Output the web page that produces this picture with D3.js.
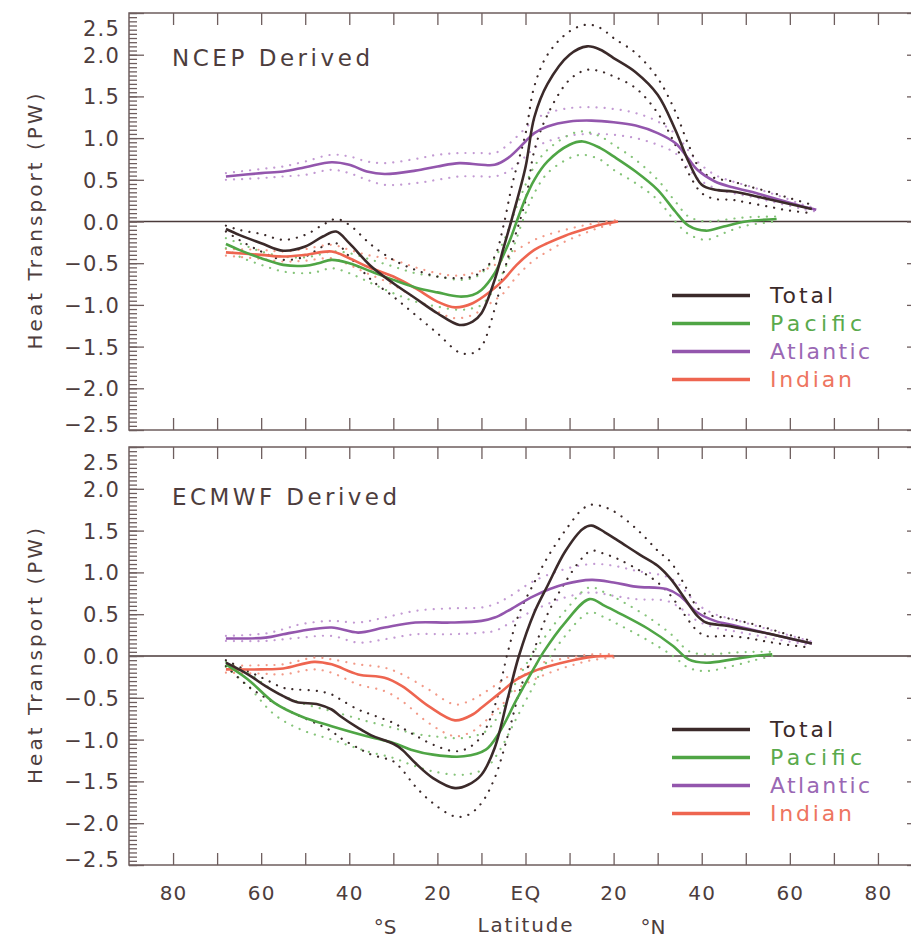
<!DOCTYPE html>
<html>
<head>
<meta charset="utf-8">
<script src="https://cdn.jsdelivr.net/npm/d3@7"></script>
<style>
  html, body { margin: 0; padding: 0; background: #fff; }
  svg { display: block; }
  text { font-family: "DejaVu Sans", "Liberation Sans", sans-serif; fill: #4d3d3d; }
</style>
</head>
<body>
<svg id="chart" width="911" height="940"></svg>
<script>
// ---------------- DATA (latitude in degrees, negative = south; PW) ----------------
const seriesNames = ["Total", "Pacific", "Atlantic", "Indian"];
const xTickValues = [-80, -70, -60, -50, -40, -30, -20, -10, 0, 10, 20, 30, 40, 50, 60, 70, 80];
const xLabelValues = [-80, -60, -40, -20, 0, 20, 40, 60, 80];
const yMajorTicks = [-2.5, -2.0, -1.5, -1.0, -0.5, 0.0, 0.5, 1.0, 1.5, 2.0, 2.5];
const panelTitles = ["NCEP Derived", "ECMWF Derived"];

// NCEP
const ncepTotalLat = [-68,-65,-60,-55,-50,-46,-43,-40,-35,-30,-25,-20,-15,-12,-10,-7,-5,-3,0,2,5,10,14,17,20,25,30,34,37,40,43,47,50,55,60,65];
const ncepTotal    = [-0.09,-0.16,-0.26,-0.35,-0.30,-0.18,-0.12,-0.26,-0.54,-0.74,-0.92,-1.10,-1.24,-1.20,-1.10,-0.70,-0.32,0.05,0.65,1.25,1.65,2.00,2.10,2.06,1.96,1.79,1.52,1.10,0.72,0.44,0.38,0.36,0.33,0.27,0.21,0.15];
const ncepTotalHi  = [-0.05,-0.10,-0.15,-0.22,-0.16,-0.04,0.03,-0.04,-0.28,-0.46,-0.58,-0.66,-0.68,-0.66,-0.60,-0.42,-0.05,0.45,1.05,1.62,2.00,2.28,2.36,2.32,2.20,2.02,1.72,1.32,0.92,0.60,0.52,0.48,0.43,0.36,0.28,0.20];
const ncepTotalLo  = [-0.12,-0.22,-0.36,-0.46,-0.42,-0.30,-0.26,-0.42,-0.70,-0.90,-1.12,-1.34,-1.57,-1.58,-1.50,-1.05,-0.62,-0.28,0.25,0.85,1.28,1.70,1.82,1.80,1.74,1.60,1.30,0.92,0.58,0.34,0.27,0.26,0.23,0.18,0.13,0.10];

const ncepPacificLat = [-68,-65,-60,-55,-50,-47,-44,-40,-35,-30,-25,-20,-15,-12,-10,-7,-5,-3.5,-2,0,2,5,10,13,17,20,25,30,34,37,41,45,50,57];
const ncepPacific    = [-0.27,-0.34,-0.44,-0.52,-0.53,-0.50,-0.46,-0.50,-0.60,-0.70,-0.79,-0.85,-0.90,-0.88,-0.82,-0.62,-0.40,-0.22,0.00,0.28,0.50,0.72,0.92,0.96,0.88,0.78,0.60,0.38,0.12,-0.05,-0.11,-0.06,0.00,0.03];
const ncepPacificHi  = [-0.20,-0.26,-0.36,-0.42,-0.43,-0.40,-0.36,-0.38,-0.46,-0.54,-0.62,-0.66,-0.70,-0.68,-0.62,-0.44,-0.24,-0.04,0.18,0.44,0.66,0.86,1.04,1.08,1.02,0.92,0.74,0.50,0.24,0.06,0.00,0.02,0.05,0.06];
const ncepPacificLo  = [-0.32,-0.42,-0.52,-0.60,-0.62,-0.60,-0.56,-0.62,-0.74,-0.86,-0.96,-1.02,-1.06,-1.04,-1.00,-0.80,-0.60,-0.42,-0.20,0.10,0.34,0.58,0.76,0.80,0.74,0.62,0.46,0.26,0.00,-0.15,-0.22,-0.14,-0.05,0.00];

const ncepAtlanticLat = [-68,-60,-55,-50,-44,-40,-36,-32,-25,-20,-15,-10,-7,-4,0,2,5,10,15,20,25,30,34,37,39,43,47,51,55,59,63,66];
const ncepAtlantic    = [0.54,0.58,0.60,0.65,0.71,0.68,0.60,0.57,0.61,0.66,0.70,0.68,0.68,0.76,0.96,1.06,1.14,1.20,1.21,1.19,1.15,1.06,0.94,0.75,0.62,0.48,0.41,0.36,0.30,0.24,0.18,0.14];
const ncepAtlanticHi  = [0.58,0.63,0.66,0.72,0.80,0.78,0.72,0.70,0.75,0.80,0.82,0.82,0.82,0.92,1.12,1.22,1.30,1.36,1.37,1.35,1.30,1.20,1.05,0.85,0.72,0.56,0.48,0.42,0.35,0.28,0.20,0.16];
const ncepAtlanticLo  = [0.50,0.52,0.54,0.56,0.62,0.58,0.50,0.44,0.46,0.50,0.54,0.54,0.54,0.60,0.78,0.88,0.96,1.03,1.05,1.04,1.00,0.92,0.82,0.64,0.52,0.40,0.34,0.30,0.25,0.20,0.15,0.12];

const ncepIndianLat = [-68,-60,-55,-50,-44,-40,-36,-30,-25,-20,-16,-12,-8,-5,-2,2,5,9,13,17,21];
const ncepIndian    = [-0.37,-0.40,-0.42,-0.40,-0.36,-0.44,-0.54,-0.66,-0.80,-0.96,-1.03,-0.98,-0.84,-0.70,-0.52,-0.34,-0.26,-0.17,-0.10,-0.04,0.00];
const ncepIndianHi  = [-0.33,-0.34,-0.36,-0.33,-0.28,-0.34,-0.40,-0.46,-0.55,-0.62,-0.65,-0.62,-0.55,-0.45,-0.34,-0.22,-0.16,-0.10,-0.05,-0.01,0.02];
const ncepIndianLo  = [-0.41,-0.45,-0.48,-0.47,-0.44,-0.52,-0.62,-0.76,-0.92,-1.08,-1.16,-1.12,-0.98,-0.86,-0.66,-0.46,-0.36,-0.24,-0.15,-0.07,-0.02];

// ECMWF
const ecmwfTotalLat = [-68,-63,-59,-55,-52,-47,-44,-42,-38,-35,-30,-28,-25,-21,-16,-13,-10,-7,-4,-1.5,2,5,9,13,15,18,21,26,30,33,36,39,41,46,51,55,60,65];
const ecmwfTotal    = [-0.08,-0.22,-0.36,-0.48,-0.55,-0.58,-0.64,-0.72,-0.86,-0.95,-1.05,-1.12,-1.28,-1.46,-1.58,-1.54,-1.42,-1.10,-0.50,0.00,0.52,0.84,1.25,1.52,1.56,1.48,1.38,1.21,1.08,0.92,0.70,0.48,0.40,0.36,0.31,0.27,0.21,0.15];
const ecmwfTotalHi  = [-0.05,-0.18,-0.28,-0.38,-0.40,-0.42,-0.46,-0.52,-0.64,-0.70,-0.80,-0.86,-0.95,-1.06,-1.14,-1.10,-0.96,-0.60,0.05,0.50,0.88,1.18,1.50,1.76,1.81,1.78,1.70,1.48,1.26,1.12,0.86,0.58,0.50,0.45,0.39,0.33,0.25,0.18];
const ecmwfTotalLo  = [-0.12,-0.36,-0.50,-0.62,-0.70,-0.82,-0.90,-0.98,-1.10,-1.18,-1.26,-1.36,-1.56,-1.76,-1.92,-1.90,-1.76,-1.46,-0.95,-0.45,0.08,0.50,0.88,1.18,1.26,1.22,1.16,1.02,0.88,0.72,0.50,0.30,0.24,0.24,0.21,0.17,0.13,0.10];

const ecmwfPacificLat = [-68,-63,-57,-51,-44,-36,-30,-26,-21,-14,-9,-6,-2,2,4,9,14.5,18,21,28,33.5,37,41,47,52,56];
const ecmwfPacific    = [-0.10,-0.28,-0.56,-0.72,-0.84,-0.96,-1.04,-1.12,-1.18,-1.20,-1.12,-0.92,-0.52,-0.14,0.04,0.40,0.68,0.60,0.52,0.32,0.12,-0.04,-0.08,-0.04,0.00,0.02];
const ecmwfPacificHi  = [-0.07,-0.20,-0.42,-0.56,-0.66,-0.78,-0.86,-0.92,-0.96,-0.98,-0.90,-0.70,-0.30,0.06,0.20,0.54,0.82,0.76,0.68,0.46,0.24,0.06,0.02,0.04,0.05,0.05];
const ecmwfPacificLo  = [-0.13,-0.36,-0.70,-0.88,-1.00,-1.14,-1.22,-1.30,-1.38,-1.42,-1.34,-1.14,-0.74,-0.34,-0.14,0.24,0.52,0.46,0.38,0.18,0.00,-0.14,-0.18,-0.12,-0.05,0.00];

const ecmwfAtlanticLat = [-68,-59,-55,-51,-44,-38,-32,-25,-17,-10,-7,-4,2,9,15,20,25,32,35,39,43,47,51,55,59,65];
const ecmwfAtlantic    = [0.21,0.22,0.26,0.30,0.34,0.28,0.34,0.40,0.40,0.42,0.46,0.54,0.72,0.86,0.91,0.88,0.83,0.80,0.72,0.52,0.42,0.37,0.32,0.27,0.22,0.15];
const ecmwfAtlanticHi  = [0.24,0.27,0.32,0.38,0.42,0.40,0.46,0.54,0.57,0.58,0.62,0.70,0.90,1.04,1.10,1.08,1.02,0.95,0.85,0.62,0.50,0.44,0.38,0.32,0.26,0.17];
const ecmwfAtlanticLo  = [0.18,0.18,0.20,0.22,0.24,0.16,0.20,0.26,0.26,0.28,0.30,0.38,0.55,0.70,0.76,0.72,0.68,0.66,0.58,0.42,0.34,0.30,0.26,0.22,0.18,0.13];

const ecmwfIndianLat = [-68,-60,-55,-48,-44,-38,-32,-28,-22,-16,-12,-10,-6,-2,2,5.5,10,15,20];
const ecmwfIndian    = [-0.16,-0.16,-0.15,-0.07,-0.10,-0.22,-0.26,-0.36,-0.60,-0.77,-0.70,-0.62,-0.45,-0.28,-0.18,-0.12,-0.06,-0.01,0.00];
const ecmwfIndianHi  = [-0.12,-0.11,-0.10,-0.02,-0.04,-0.10,-0.14,-0.22,-0.40,-0.58,-0.52,-0.46,-0.32,-0.18,-0.10,-0.06,-0.02,0.02,0.02];
const ecmwfIndianLo  = [-0.20,-0.21,-0.22,-0.16,-0.20,-0.34,-0.42,-0.54,-0.80,-0.96,-0.90,-0.82,-0.62,-0.40,-0.28,-0.20,-0.12,-0.05,-0.02];

// ---------------- STYLE ----------------
const solidColor  = { Total: "#3b2a2a", Pacific: "#4fa545", Atlantic: "#9356ad", Indian: "#ee6550" };
const dottedColor = { Total: "#3b2a2a", Pacific: "#86c47a", Atlantic: "#c39ad3", Indian: "#f29a88" };
const legendTextColor = { Total: "#3b2a2a", Pacific: "#5aaa4c", Atlantic: "#9a68b4", Indian: "#ee7560" };
const axisColor = "#6e5e5e";

// ---------------- BUILD ----------------
function pack(lat, mean, lo, hi) {
  return { mean: lat.map((d, i) => [d, mean[i]]), lo: lat.map((d, i) => [d, lo[i]]), hi: lat.map((d, i) => [d, hi[i]]) };
}
const panels = [
  { title: panelTitles[0], top: 13, bottom: 430, titleDy: 45,
    data: { Total: pack(ncepTotalLat, ncepTotal, ncepTotalLo, ncepTotalHi),
            Pacific: pack(ncepPacificLat, ncepPacific, ncepPacificLo, ncepPacificHi),
            Atlantic: pack(ncepAtlanticLat, ncepAtlantic, ncepAtlanticLo, ncepAtlanticHi),
            Indian: pack(ncepIndianLat, ncepIndian, ncepIndianLo, ncepIndianHi) },
    xLabels: false },
  { title: panelTitles[1], top: 447, bottom: 865, titleDy: 50,
    data: { Total: pack(ecmwfTotalLat, ecmwfTotal, ecmwfTotalLo, ecmwfTotalHi),
            Pacific: pack(ecmwfPacificLat, ecmwfPacific, ecmwfPacificLo, ecmwfPacificHi),
            Atlantic: pack(ecmwfAtlanticLat, ecmwfAtlantic, ecmwfAtlanticLo, ecmwfAtlanticHi),
            Indian: pack(ecmwfIndianLat, ecmwfIndian, ecmwfIndianLo, ecmwfIndianHi) },
    xLabels: true }
];

const svg = d3.select("#chart");
const left = 129, right = 922;
const x = d3.scaleLinear().domain([-90, 90]).range([left, right]);
const yMinor = d3.range(-2.5, 2.5001, 0.05).map(v => Math.round(v * 100) / 100);
const fmt = d3.format(".1f");

panels.forEach(p => {
  const y = d3.scaleLinear().domain([-2.5, 2.5]).range([p.bottom, p.top]);
  const g = svg.append("g");
  const clipId = "clip" + p.top;
  svg.append("clipPath").attr("id", clipId).append("rect")
    .attr("x", left).attr("y", p.top).attr("width", right - left).attr("height", p.bottom - p.top);

  // zero line
  g.append("line").attr("x1", left).attr("x2", right).attr("y1", y(0)).attr("y2", y(0))
    .attr("stroke", "#4a3a3a").attr("stroke-width", 1.6);

  const line = d3.line().x(d => x(d[0])).y(d => y(d[1])).curve(d3.curveCatmullRom.alpha(0.5));
  const plot = g.append("g").attr("clip-path", `url(#${clipId})`);

  // dotted uncertainty bounds
  ["Indian", "Atlantic", "Pacific", "Total"].forEach(name => {
    ["lo", "hi"].forEach(k => {
      plot.append("path").attr("d", line(p.data[name][k]))
        .attr("fill", "none").attr("stroke", dottedColor[name])
        .attr("stroke-width", 2.2).attr("stroke-linecap", "round")
        .attr("stroke-dasharray", "0.1,8");
    });
  });
  // solid means
  ["Indian", "Atlantic", "Pacific", "Total"].forEach(name => {
    plot.append("path").attr("d", line(p.data[name].mean))
      .attr("fill", "none").attr("stroke", solidColor[name])
      .attr("stroke-width", 2.6).attr("stroke-linejoin", "round");
  });

  // axes
  const styleAxis = sel => { sel.select(".domain").remove(); sel.selectAll("line").attr("stroke", axisColor).attr("stroke-width", 1.3); };
  g.append("g").attr("transform", `translate(${left},0)`)
    .call(d3.axisLeft(y).tickValues(yMinor).tickSizeInner(-8).tickSizeOuter(0).tickFormat(""))
    .call(styleAxis);
  const yAx = g.append("g").attr("transform", `translate(${left},0)`)
    .call(d3.axisLeft(y).tickValues(yMajorTicks).tickSizeInner(-15).tickSizeOuter(0).tickPadding(9).tickFormat(fmt))
    .call(styleAxis);
  yAx.selectAll("text").attr("font-size", 21).attr("letter-spacing", 1.2).style("fill", "#4d3d3d")
    .attr("font-family", "DejaVu Sans")
    .attr("dy", d => d === 2.5 ? "1.05em" : (d === -2.5 ? "0.05em" : "0.36em"));
  g.append("g").attr("transform", `translate(${right},0)`)
    .call(d3.axisRight(y).tickValues(yMajorTicks).tickSizeInner(-15).tickSizeOuter(0).tickFormat(""))
    .call(styleAxis);
  g.append("g").attr("transform", `translate(0,${p.top})`)
    .call(d3.axisTop(x).tickValues(xTickValues).tickSizeInner(-12).tickSizeOuter(0).tickFormat(""))
    .call(styleAxis);
  const xAx = g.append("g").attr("transform", `translate(0,${p.bottom})`)
    .call(d3.axisBottom(x).tickValues(xTickValues).tickSizeInner(-12).tickSizeOuter(0).tickPadding(21)
      .tickFormat(d => (p.xLabels && xLabelValues.includes(d)) ? (d === 0 ? "EQ" : String(Math.abs(d))) : ""))
    .call(styleAxis);
  xAx.selectAll("text").attr("font-size", 20).attr("letter-spacing", 1.2).style("fill", "#4d3d3d").attr("font-family", "DejaVu Sans");

  // frame
  g.append("rect").attr("x", left).attr("y", p.top).attr("width", right - left).attr("height", p.bottom - p.top)
    .attr("fill", "none").attr("stroke", axisColor).attr("stroke-width", 1.5);

  // title
  g.append("text").attr("x", 172).attr("y", p.top + p.titleDy).attr("dy", "0.36em")
    .attr("font-size", 23).attr("textLength", p.title === "NCEP Derived" ? 198 : 225).attr("lengthAdjust", "spacing")
    .text(p.title);

  // y-axis title
  const cy = (p.top + p.bottom) / 2;
  g.append("text").attr("transform", `translate(35,${cy}) rotate(-90)`).attr("text-anchor", "middle")
    .attr("dy", "0.36em").attr("font-size", 20).attr("textLength", 256).attr("lengthAdjust", "spacing")
    .text("Heat Transport (PW)");

  // legend
  const legendLen = { Total: 63, Pacific: 92, Atlantic: 100, Indian: 82 };
  seriesNames.forEach((name, i) => {
    const ly = p.top + 282.5 + 28 * i;
    g.append("line").attr("x1", 672).attr("x2", 750).attr("y1", ly).attr("y2", ly)
      .attr("stroke", solidColor[name]).attr("stroke-width", 3.5);
    g.append("text").attr("x", 770).attr("y", ly).attr("dy", "0.36em").attr("font-size", 22)
      .attr("textLength", legendLen[name]).attr("lengthAdjust", "spacing")
      .style("fill", legendTextColor[name]).text(name);
  });
});

// bottom axis title
svg.append("text").attr("x", 385).attr("y", 927).attr("dy", "0.36em").attr("text-anchor", "middle")
  .attr("font-size", 20).text("°S");
svg.append("text").attr("x", 525).attr("y", 925).attr("dy", "0.36em").attr("text-anchor", "middle")
  .attr("font-size", 20).attr("textLength", 95).attr("lengthAdjust", "spacing").text("Latitude");
svg.append("text").attr("x", 653).attr("y", 927).attr("dy", "0.36em").attr("text-anchor", "middle")
  .attr("font-size", 20).text("°N");
</script>
</body>
</html>
